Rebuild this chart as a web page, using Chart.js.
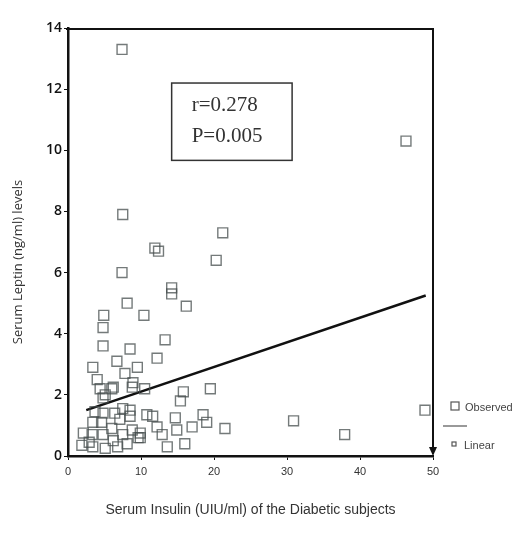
<!DOCTYPE html>
<html>
<head>
<meta charset="utf-8">
<script src="https://cdn.jsdelivr.net/npm/chart.js@4/dist/chart.umd.min.js"></script>
<style>
  html, body { margin: 0; padding: 0; background: #fff; }
  #wrap { width: 524px; height: 533px; }
</style>
</head>
<body>
<div id="wrap"><canvas id="leptinChart" width="524" height="533"></canvas></div>
<script>
// Serum insulin (x) and serum leptin (y) for each observed subject
const insulin = [7.4, 7.5, 11.9, 12.4, 7.4, 21.2, 20.3, 14.2, 14.2, 16.2,
  8.1, 10.4, 4.9, 4.8, 4.8, 8.5, 6.7, 12.2, 13.3, 3.4,
  9.5, 7.8, 8.9, 6.0, 10.5, 4.0, 4.8, 15.8, 15.4, 19.5,
  46.3, 48.9, 30.9, 37.9, 18.5, 19.0, 17.0, 21.5, 14.7, 14.9,
  16.0, 13.6, 12.9, 11.6, 12.2, 10.8, 9.9, 2.1, 1.9, 3.3,
  3.4, 3.4, 4.6, 4.8, 5.1, 6.0, 6.2, 6.8, 7.1, 7.5,
  8.5, 8.8, 9.6, 9.9, 3.7, 4.8, 6.4, 7.5, 8.5, 8.8,
  6.2, 4.4, 5.1, 2.9, 8.1];
const leptin = [13.3, 7.9, 6.8, 6.7, 6.0, 7.3, 6.4, 5.5, 5.3, 4.9,
  5.0, 4.6, 4.6, 4.2, 3.6, 3.5, 3.1, 3.2, 3.8, 2.9,
  2.9, 2.7, 2.4, 2.2, 2.2, 2.5, 1.9, 2.1, 1.8, 2.2,
  10.3, 1.5, 1.15, 0.7, 1.35, 1.1, 0.95, 0.9, 1.25, 0.85,
  0.4, 0.3, 0.7, 1.3, 0.95, 1.35, 0.6, 0.75, 0.35, 0.7,
  0.3, 1.1, 1.1, 0.7, 0.25, 0.9, 0.5, 0.3, 1.2, 0.7,
  1.3, 0.85, 0.6, 0.75, 1.45, 1.4, 1.4, 1.55, 1.5, 2.25,
  2.25, 2.2, 2.0, 0.45, 0.4];

// Linear fit end points
const fitX = [2.5, 49];
const fitY = [1.5, 5.25];

const xTicks = [0, 10, 20, 30, 40, 50];
const yTicks = [0, 2, 4, 6, 8, 10, 12, 14];

const statLines = ['r=0.278', 'P=0.005'];
const yTitle = 'Serum Leptin (ng/ml) levels';

const observed = insulin.map((v, i) => ({ x: v, y: leptin[i] }));
const linear = fitX.map((v, i) => ({ x: v, y: fitY[i] }));

// frame (top + right with arrow), y title, stats box and legend
const extras = {
  id: 'extras',
  afterDraw(chart) {
    const ctx = chart.ctx;
    const a = chart.chartArea;
    const xs = chart.scales.x, ys = chart.scales.y;
    ctx.save();
    ctx.strokeStyle = '#111';
    ctx.lineWidth = 2;
    ctx.beginPath();
    ctx.moveTo(a.left - 2, a.top + 1);
    ctx.lineTo(a.right, a.top + 1);
    ctx.lineTo(a.right, a.bottom - 2);
    ctx.stroke();
    ctx.fillStyle = '#111';
    ctx.beginPath();
    ctx.moveTo(a.right - 4, a.bottom - 9);
    ctx.lineTo(a.right + 4, a.bottom - 9);
    ctx.lineTo(a.right, a.bottom);
    ctx.closePath();
    ctx.fill();

    // y axis title (sits a bit below the axis middle in the original)
    ctx.save();
    ctx.translate(18, 262);
    ctx.rotate(-Math.PI / 2);
    ctx.font = '13px "Open Sans", sans-serif';
    ctx.fillStyle = '#333';
    ctx.textAlign = 'center';
    ctx.textBaseline = 'middle';
    ctx.fillText(yTitle, 0, 0);
    ctx.restore();

    // stats box
    const bx1 = xs.getPixelForValue(14.2), bx2 = xs.getPixelForValue(30.7);
    const by1 = ys.getPixelForValue(12.2), by2 = ys.getPixelForValue(9.67);
    ctx.strokeStyle = '#333';
    ctx.lineWidth = 1.5;
    ctx.strokeRect(bx1, by1, bx2 - bx1, by2 - by1);
    ctx.fillStyle = '#333';
    ctx.font = '21px "Liberation Serif", "DejaVu Serif", serif';
    ctx.textBaseline = 'middle';
    ctx.fillText(statLines[0], bx1 + 20, by1 + 22);
    ctx.fillText(statLines[1], bx1 + 20, by1 + 53);

    // legend
    const lx = a.right + 16;
    ctx.strokeStyle = '#555';
    ctx.lineWidth = 1.2;
    ctx.strokeRect(lx + 2, 402, 8, 8);
    ctx.font = '11px "Liberation Sans", Arial, sans-serif';
    ctx.fillStyle = '#444';
    ctx.fillText('Observed', lx + 16, 408);
    ctx.beginPath();
    ctx.moveTo(lx - 6, 426);
    ctx.lineTo(lx + 18, 426);
    ctx.stroke();
    ctx.strokeRect(lx + 3, 442, 4, 4);
    ctx.fillText('Linear', lx + 15, 446);
    ctx.restore();
  }
};

const ctxL = document.getElementById('leptinChart');

new Chart(ctxL, {
  type: 'scatter',
  data: {
    datasets: [
      {
        label: 'Observed',
        data: observed,
        pointStyle: 'rect',
        pointRadius: 7,
        borderColor: 'rgba(70,78,78,0.75)',
        backgroundColor: 'rgba(0,0,0,0)',
        borderWidth: 1.4
      },
      {
        label: 'Linear',
        type: 'line',
        data: linear,
        borderColor: '#111',
        borderWidth: 2.5,
        pointRadius: 0,
        fill: false
      }
    ]
  },
  plugins: [extras],
  options: {
    responsive: false,
    animation: false,
    layout: { padding: { left: 5, right: 91, top: 28, bottom: 0 } },
    plugins: {
      legend: { display: false },
      tooltip: { enabled: false }
    },
    scales: {
      x: {
        type: 'linear',
        min: 0,
        max: 50,
        afterBuildTicks: s => { s.ticks = xTicks.map(v => ({ value: v })); },
        afterFit: s => { s.height = 77; },
        grid: { drawOnChartArea: false, drawTicks: true, tickLength: 4, color: '#111' },
        border: { color: '#111', width: 2.5 },
        ticks: {
          color: '#333',
          padding: 5,
          font: { family: '"Liberation Sans", Arial, sans-serif', size: 11 }
        },
        title: {
          display: true,
          text: 'Serum Insulin (UIU/ml) of the Diabetic subjects',
          color: '#333',
          padding: { top: 0, bottom: 14 },
          font: { family: '"Liberation Sans", Arial, sans-serif', size: 14 }
        }
      },
      y: {
        min: 0,
        max: 14,
        afterBuildTicks: s => { s.ticks = yTicks.map(v => ({ value: v })); },
        afterFit: s => { s.width = 63; },
        grid: { drawOnChartArea: false, drawTicks: true, tickLength: 4, color: '#111' },
        border: { color: '#111', width: 2.5 },
        ticks: {
          color: '#111',
          padding: 2,
          font: { family: '"Open Sans", sans-serif', size: 14, weight: '600' }
        },
        title: { display: false }
      }
    }
  }
});
</script>
</body>
</html>
